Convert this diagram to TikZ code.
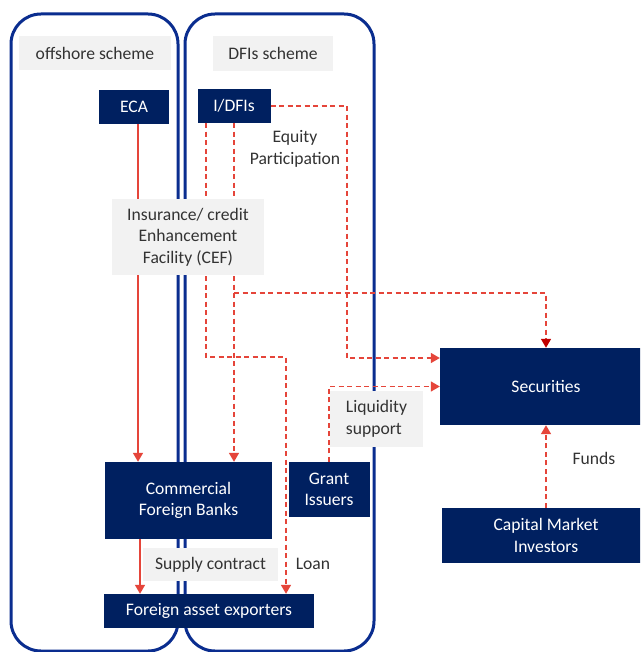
\documentclass[tikz,border=0pt]{standalone}
\usepackage{fontspec}
\setmainfont{Carlito}
\usetikzlibrary{arrows.meta,calc}
\definecolor{navy}{HTML}{002060}
\definecolor{frame}{HTML}{0A2D8F}
\definecolor{panel}{HTML}{F2F2F2}
\definecolor{flow}{HTML}{E5453A}
\definecolor{flowdark}{HTML}{C00000}
\definecolor{ink}{HTML}{333333}
\tikzset{
  every node/.style={font=\fontsize{17.6}{21.5}\selectfont, inner sep=0pt},
  scheme/.style={draw=frame, line width=3pt, rounded corners=30pt},
  actor/.style={fill=navy, text=white, align=center},
  tag/.style={fill=panel, text=ink, align=center},
  caption/.style={text=ink, align=center},
  tip/.style={-{Triangle[length=9pt,width=10pt]}},
  solidflow/.style={draw=flow, line width=1.5pt, tip},
  dashflow/.style={draw=flow, line width=1.5pt, dash pattern=on 5pt off 3.5pt, tip},
  darkflow/.style={draw=flow, line width=1.5pt, dash pattern=on 5pt off 3.5pt,
    -{Triangle[length=9pt,width=10pt,color=flowdark]}},
}
\begin{document}
\begin{tikzpicture}[x=1pt,y=-1pt]
\useasboundingbox (0,0) rectangle (640,652);
\clip (0,0) rectangle (640,652);
\fill[white] (0,0) rectangle (640,652);

% scheme frames
\draw[scheme] (11,14) rectangle (178,651);
\draw[scheme] (185,14) rectangle (374,651);

% coordinates of the bends
\coordinate (loanbend) at (286,357);
\coordinate (eqbend) at (347,358);

% actors
\node[actor, minimum width=70pt, minimum height=34pt] (eca) at (134,107) {ECA};
\node[actor, minimum width=73pt, minimum height=34pt] (idfi) at (234,106) {I/DFIs};
\node[actor, minimum width=167pt, minimum height=77pt] (cfb) at (188.5,500.5) {Commercial\\Foreign Banks};
\node[actor, minimum width=81pt, minimum height=55pt] (gi) at (329,489.5) {Grant\\Issuers};
\node[actor, minimum width=210pt, minimum height=34pt] (fae) at (209,611) {Foreign asset exporters};
\node[actor, minimum width=212pt, minimum height=77pt] (sec) at (546,386.5) {Securities};
\node[actor, minimum width=208pt, minimum height=55pt] (cmi) at (546,535.5) {Capital Market\\Investors};

% flows
\draw[solidflow] ([xshift=4pt]eca.south) -- ([xshift=4pt]eca.south |- cfb.north);
\draw[solidflow] ([xshift=-48.5pt]cfb.south) -- ([xshift=-48.5pt]cfb.south |- fae.north);
\draw[dashflow] ([xshift=-28pt]idfi.south) |- (loanbend) -- (loanbend |- fae.north);
\draw[dashflow] (idfi.south) -- (idfi.south |- cfb.north);
\draw[darkflow] (idfi.south |- 0,293) -| (sec.north);
\draw[dashflow] (idfi.east) -| (eqbend) -- (eqbend -| sec.west);
\draw[dashflow] (gi.north) |- (sec.west);
\draw[dashflow] (cmi.north) -- (sec.south);

% labels on grey panels
\node[tag, minimum width=152pt, minimum height=34pt] (offs) at (95,53) {offshore scheme};
\node[tag, minimum width=120pt, minimum height=35pt] (dfis) at (273,53.5) {DFIs scheme};
\node[tag, minimum width=152pt, minimum height=76pt] (cef) at (188,237) {Insurance/ credit\\Enhancement\\Facility (CEF)};
\node[tag, minimum width=93pt, minimum height=56pt, align=left] (liq) at (376.5,419) {Liquidity\\support};
\node[tag, minimum width=135pt, minimum height=33pt] (sup) at (210.5,564.5) {Supply contract};

% free captions
\node[caption] (eq) at (295,149) {Equity\\Participation};
\node[caption] (funds) at (594,458) {Funds};
\node[caption] (loan) at (313,564) {Loan};
\end{tikzpicture}
\end{document}
